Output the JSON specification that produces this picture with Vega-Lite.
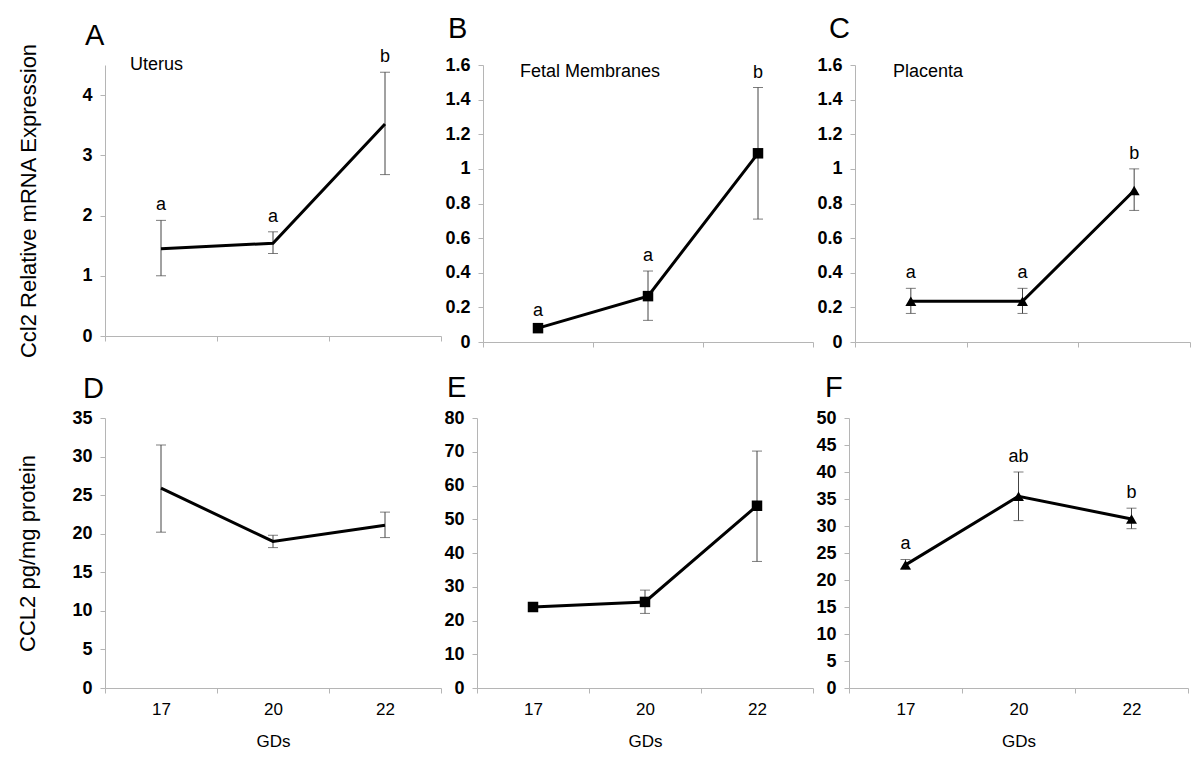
{
  "$schema": "https://vega.github.io/schema/vega-lite/v6.json",
  "padding": {"left": 16, "top": 15, "right": 5, "bottom": 5},
  "background": "white",
  "datasets": {
    "ccl2": [
      {"panel": "A", "gd": "17", "mean": 1.45, "lo": 1.0, "hi": 1.92, "sig": "a"},
      {"panel": "A", "gd": "20", "mean": 1.54, "lo": 1.37, "hi": 1.73, "sig": "a"},
      {"panel": "A", "gd": "22", "mean": 3.52, "lo": 2.68, "hi": 4.38, "sig": "b"},
      {"panel": "B", "gd": "17", "mean": 0.08, "lo": 0.07, "hi": 0.09, "sig": "a"},
      {"panel": "B", "gd": "20", "mean": 0.265, "lo": 0.125, "hi": 0.41, "sig": "a"},
      {"panel": "B", "gd": "22", "mean": 1.09, "lo": 0.71, "hi": 1.47, "sig": "b"},
      {"panel": "C", "gd": "17", "mean": 0.235, "lo": 0.165, "hi": 0.31, "sig": "a"},
      {"panel": "C", "gd": "20", "mean": 0.235, "lo": 0.165, "hi": 0.31, "sig": "a"},
      {"panel": "C", "gd": "22", "mean": 0.875, "lo": 0.76, "hi": 1.0, "sig": "b"},
      {"panel": "D", "gd": "17", "mean": 25.9, "lo": 20.2, "hi": 31.5, "sig": ""},
      {"panel": "D", "gd": "20", "mean": 19.0, "lo": 18.2, "hi": 19.8, "sig": ""},
      {"panel": "D", "gd": "22", "mean": 21.1, "lo": 19.5, "hi": 22.8, "sig": ""},
      {"panel": "E", "gd": "17", "mean": 24.0, "lo": 23.5, "hi": 24.5, "sig": ""},
      {"panel": "E", "gd": "20", "mean": 25.5, "lo": 22.1, "hi": 29.0, "sig": ""},
      {"panel": "E", "gd": "22", "mean": 54.0, "lo": 37.5, "hi": 70.2, "sig": ""},
      {"panel": "F", "gd": "17", "mean": 22.8, "lo": 22.0, "hi": 23.8, "sig": "a"},
      {"panel": "F", "gd": "20", "mean": 35.5, "lo": 31.0, "hi": 40.0, "sig": "ab"},
      {"panel": "F", "gd": "22", "mean": 31.3, "lo": 29.5, "hi": 33.3, "sig": "b"}
    ]
  },
  "config": {
    "font": "Liberation Sans",
    "view": {"stroke": null},
    "axis": {"domainColor": "#b5b5b5", "tickColor": "#b5b5b5", "grid": false, "labelColor": "#000", "titleColor": "#000", "tickSize": 5, "labelOverlap": false},
    "axisY": {"labelFontSize": 18, "labelFontWeight": "bold", "labelPadding": 8, "titleFontSize": 22, "titleFontWeight": "normal", "tickCount": 20},
    "axisX": {"labelFontSize": 17, "labelPadding": 8, "labelAngle": 0, "titleFontSize": 17, "titleFontWeight": "normal", "titlePadding": 16, "tickBand": "extent"},
    "title": {"fontSize": 29, "fontWeight": "normal", "anchor": "start", "frame": "group", "color": "#000"}
  },
  "spacing": 15,
  "vconcat": [
    {
      "bounds": "flush",
      "spacing": 42,
      "hconcat": [
        {
          "width": 336, "height": 271,
          "title": {"text": "A", "dx": -20, "offset": -8},
          "layer": [
            {
              "data": {"name": "ccl2"},
              "transform": [{"filter": "datum.panel === 'A'"}],
              "encoding": {"x": {"field": "gd", "type": "ordinal", "scale": {"domain": ["17", "20", "22"], "paddingInner": 0, "paddingOuter": 0}, "axis": {"labels": false, "title": null}}},
              "layer": [
                {"mark": {"type": "rule", "color": "#444", "strokeWidth": 1}, "encoding": {"y": {"field": "lo", "type": "quantitative", "scale": {"domain": [0, 4.5], "nice": false}, "axis": {"values": [0, 1, 2, 3, 4], "tickCount": 20, "format": "~r", "title": "Ccl2 Relative mRNA Expression", "titlePadding": 41}}, "y2": {"field": "hi"}}},
                {"mark": {"type": "tick", "orient": "horizontal", "size": 10, "thickness": 1, "color": "#444"}, "encoding": {"y": {"field": "lo", "type": "quantitative", "scale": {"domain": [0, 4.5], "nice": false}}}},
                {"mark": {"type": "tick", "orient": "horizontal", "size": 10, "thickness": 1, "color": "#444"}, "encoding": {"y": {"field": "hi", "type": "quantitative", "scale": {"domain": [0, 4.5], "nice": false}}}},
                {"mark": {"type": "line", "color": "#000", "strokeWidth": 3}, "encoding": {"y": {"field": "mean", "type": "quantitative", "scale": {"domain": [0, 4.5], "nice": false}}}},
                {"mark": {"type": "text", "dy": -10, "baseline": "alphabetic", "fontSize": 18, "color": "#000"}, "encoding": {"y": {"field": "hi", "type": "quantitative", "scale": {"domain": [0, 4.5], "nice": false}}, "text": {"field": "sig"}}}
              ]
            },
            {
              "data": {"values": [{"tissue": "Uterus"}]},
              "mark": {"type": "text", "align": "left", "baseline": "middle", "fontSize": 18, "dx": 25, "dy": 0, "color": "#000"},
              "encoding": {
                "x": {"datum": "17", "type": "ordinal", "bandPosition": 0},
                "y": {"datum": 4.5, "type": "quantitative"},
                "text": {"field": "tissue"}
              }
            }
          ]
        },
        {
          "width": 330, "height": 277,
          "title": {"text": "B", "dx": -35, "offset": 12},
          "layer": [
            {
              "data": {"name": "ccl2"},
              "transform": [{"filter": "datum.panel === 'B'"}],
              "encoding": {"x": {"field": "gd", "type": "ordinal", "scale": {"domain": ["17", "20", "22"], "paddingInner": 0, "paddingOuter": 0}, "axis": {"labels": false, "title": null}}},
              "layer": [
                {"mark": {"type": "rule", "color": "#444", "strokeWidth": 1}, "encoding": {"y": {"field": "lo", "type": "quantitative", "scale": {"domain": [0, 1.6], "nice": false}, "axis": {"values": [0, 0.2, 0.4, 0.6, 0.8, 1, 1.2, 1.4, 1.6], "tickCount": 20, "format": "~r", "title": null}}, "y2": {"field": "hi"}}},
                {"mark": {"type": "tick", "orient": "horizontal", "size": 10, "thickness": 1, "color": "#444"}, "encoding": {"y": {"field": "lo", "type": "quantitative", "scale": {"domain": [0, 1.6], "nice": false}}}},
                {"mark": {"type": "tick", "orient": "horizontal", "size": 10, "thickness": 1, "color": "#444"}, "encoding": {"y": {"field": "hi", "type": "quantitative", "scale": {"domain": [0, 1.6], "nice": false}}}},
                {"mark": {"type": "line", "color": "#000", "strokeWidth": 3}, "encoding": {"y": {"field": "mean", "type": "quantitative", "scale": {"domain": [0, 1.6], "nice": false}}}},
                {"mark": {"type": "point", "shape": "square", "filled": true, "size": 110, "color": "#000", "opacity": 1}, "encoding": {"y": {"field": "mean", "type": "quantitative", "scale": {"domain": [0, 1.6], "nice": false}}}},
                {"mark": {"type": "text", "dy": -10, "baseline": "alphabetic", "fontSize": 18, "color": "#000"}, "encoding": {"y": {"field": "hi", "type": "quantitative", "scale": {"domain": [0, 1.6], "nice": false}}, "text": {"field": "sig"}}}
              ]
            },
            {
              "data": {"values": [{"tissue": "Fetal Membranes"}]},
              "mark": {"type": "text", "align": "left", "baseline": "middle", "fontSize": 18, "dx": 37, "dy": 7, "color": "#000"},
              "encoding": {
                "x": {"datum": "17", "type": "ordinal", "bandPosition": 0},
                "y": {"datum": 1.6, "type": "quantitative"},
                "text": {"field": "tissue"}
              }
            }
          ]
        },
        {
          "width": 335, "height": 277,
          "title": {"text": "C", "dx": -26, "offset": 12},
          "layer": [
            {
              "data": {"name": "ccl2"},
              "transform": [{"filter": "datum.panel === 'C'"}],
              "encoding": {"x": {"field": "gd", "type": "ordinal", "scale": {"domain": ["17", "20", "22"], "paddingInner": 0, "paddingOuter": 0}, "axis": {"labels": false, "title": null}}},
              "layer": [
                {"mark": {"type": "rule", "color": "#444", "strokeWidth": 1}, "encoding": {"y": {"field": "lo", "type": "quantitative", "scale": {"domain": [0, 1.6], "nice": false}, "axis": {"values": [0, 0.2, 0.4, 0.6, 0.8, 1, 1.2, 1.4, 1.6], "tickCount": 20, "format": "~r", "title": null}}, "y2": {"field": "hi"}}},
                {"mark": {"type": "tick", "orient": "horizontal", "size": 10, "thickness": 1, "color": "#444"}, "encoding": {"y": {"field": "lo", "type": "quantitative", "scale": {"domain": [0, 1.6], "nice": false}}}},
                {"mark": {"type": "tick", "orient": "horizontal", "size": 10, "thickness": 1, "color": "#444"}, "encoding": {"y": {"field": "hi", "type": "quantitative", "scale": {"domain": [0, 1.6], "nice": false}}}},
                {"mark": {"type": "line", "color": "#000", "strokeWidth": 3}, "encoding": {"y": {"field": "mean", "type": "quantitative", "scale": {"domain": [0, 1.6], "nice": false}}}},
                {"mark": {"type": "point", "shape": "triangle-up", "filled": true, "size": 120, "color": "#000", "opacity": 1}, "encoding": {"y": {"field": "mean", "type": "quantitative", "scale": {"domain": [0, 1.6], "nice": false}}}},
                {"mark": {"type": "text", "dy": -10, "baseline": "alphabetic", "fontSize": 18, "color": "#000"}, "encoding": {"y": {"field": "hi", "type": "quantitative", "scale": {"domain": [0, 1.6], "nice": false}}, "text": {"field": "sig"}}}
              ]
            },
            {
              "data": {"values": [{"tissue": "Placenta"}]},
              "mark": {"type": "text", "align": "left", "baseline": "middle", "fontSize": 18, "dx": 38, "dy": 7, "color": "#000"},
              "encoding": {
                "x": {"datum": "17", "type": "ordinal", "bandPosition": 0},
                "y": {"datum": 1.6, "type": "quantitative"},
                "text": {"field": "tissue"}
              }
            }
          ]
        }
      ]
    },
    {
      "bounds": "flush",
      "spacing": 36,
      "hconcat": [
        {
          "width": 336, "height": 270,
          "title": {"text": "D", "dx": -22, "offset": 5},
          "data": {"name": "ccl2"},
          "transform": [{"filter": "datum.panel === 'D'"}],
          "encoding": {"x": {"field": "gd", "type": "ordinal", "scale": {"domain": ["17", "20", "22"], "paddingInner": 0, "paddingOuter": 0}, "axis": {"title": "GDs"}}},
          "layer": [
            {"mark": {"type": "rule", "color": "#444", "strokeWidth": 1}, "encoding": {"y": {"field": "lo", "type": "quantitative", "scale": {"domain": [0, 35], "nice": false}, "axis": {"values": [0, 5, 10, 15, 20, 25, 30, 35], "tickCount": 20, "format": "d", "title": "CCL2 pg/mg protein", "titlePadding": 32}}, "y2": {"field": "hi"}}},
            {"mark": {"type": "tick", "orient": "horizontal", "size": 10, "thickness": 1, "color": "#444"}, "encoding": {"y": {"field": "lo", "type": "quantitative", "scale": {"domain": [0, 35], "nice": false}}}},
            {"mark": {"type": "tick", "orient": "horizontal", "size": 10, "thickness": 1, "color": "#444"}, "encoding": {"y": {"field": "hi", "type": "quantitative", "scale": {"domain": [0, 35], "nice": false}}}},
            {"mark": {"type": "line", "color": "#000", "strokeWidth": 3}, "encoding": {"y": {"field": "mean", "type": "quantitative", "scale": {"domain": [0, 35], "nice": false}}}}
          ]
        },
        {
          "width": 336, "height": 270,
          "title": {"text": "E", "dx": -30, "offset": 6},
          "data": {"name": "ccl2"},
          "transform": [{"filter": "datum.panel === 'E'"}],
          "encoding": {"x": {"field": "gd", "type": "ordinal", "scale": {"domain": ["17", "20", "22"], "paddingInner": 0, "paddingOuter": 0}, "axis": {"title": "GDs"}}},
          "layer": [
            {"mark": {"type": "rule", "color": "#444", "strokeWidth": 1}, "encoding": {"y": {"field": "lo", "type": "quantitative", "scale": {"domain": [0, 80], "nice": false}, "axis": {"values": [0, 10, 20, 30, 40, 50, 60, 70, 80], "tickCount": 20, "format": "d", "title": null}}, "y2": {"field": "hi"}}},
            {"mark": {"type": "tick", "orient": "horizontal", "size": 10, "thickness": 1, "color": "#444"}, "encoding": {"y": {"field": "lo", "type": "quantitative", "scale": {"domain": [0, 80], "nice": false}}}},
            {"mark": {"type": "tick", "orient": "horizontal", "size": 10, "thickness": 1, "color": "#444"}, "encoding": {"y": {"field": "hi", "type": "quantitative", "scale": {"domain": [0, 80], "nice": false}}}},
            {"mark": {"type": "line", "color": "#000", "strokeWidth": 3}, "encoding": {"y": {"field": "mean", "type": "quantitative", "scale": {"domain": [0, 80], "nice": false}}}},
            {"mark": {"type": "point", "shape": "square", "filled": true, "size": 110, "color": "#000", "opacity": 1}, "encoding": {"y": {"field": "mean", "type": "quantitative", "scale": {"domain": [0, 80], "nice": false}}}}
          ]
        },
        {
          "width": 339, "height": 270,
          "title": {"text": "F", "dx": -24, "offset": 6},
          "data": {"name": "ccl2"},
          "transform": [{"filter": "datum.panel === 'F'"}],
          "encoding": {"x": {"field": "gd", "type": "ordinal", "scale": {"domain": ["17", "20", "22"], "paddingInner": 0, "paddingOuter": 0}, "axis": {"title": "GDs"}}},
          "layer": [
            {"mark": {"type": "rule", "color": "#444", "strokeWidth": 1}, "encoding": {"y": {"field": "lo", "type": "quantitative", "scale": {"domain": [0, 50], "nice": false}, "axis": {"values": [0, 5, 10, 15, 20, 25, 30, 35, 40, 45, 50], "tickCount": 20, "format": "d", "title": null}}, "y2": {"field": "hi"}}},
            {"mark": {"type": "tick", "orient": "horizontal", "size": 10, "thickness": 1, "color": "#444"}, "encoding": {"y": {"field": "lo", "type": "quantitative", "scale": {"domain": [0, 50], "nice": false}}}},
            {"mark": {"type": "tick", "orient": "horizontal", "size": 10, "thickness": 1, "color": "#444"}, "encoding": {"y": {"field": "hi", "type": "quantitative", "scale": {"domain": [0, 50], "nice": false}}}},
            {"mark": {"type": "line", "color": "#000", "strokeWidth": 3}, "encoding": {"y": {"field": "mean", "type": "quantitative", "scale": {"domain": [0, 50], "nice": false}}}},
            {"mark": {"type": "point", "shape": "triangle-up", "filled": true, "size": 120, "color": "#000", "opacity": 1}, "encoding": {"y": {"field": "mean", "type": "quantitative", "scale": {"domain": [0, 50], "nice": false}}}},
            {"mark": {"type": "text", "dy": -10, "baseline": "alphabetic", "fontSize": 18, "color": "#000"}, "encoding": {"y": {"field": "hi", "type": "quantitative", "scale": {"domain": [0, 50], "nice": false}}, "text": {"field": "sig"}}}
          ]
        }
      ]
    }
  ]
}
